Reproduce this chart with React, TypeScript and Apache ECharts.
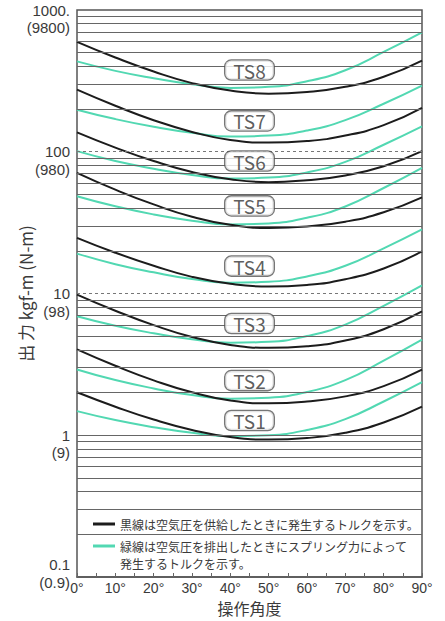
import React, { useEffect, useRef } from "react";
import * as echarts from "echarts";

const angles = [0, 10, 20, 30, 40, 50, 60, 70, 80, 90];
const xTickLabels = ["0°", "10°", "20°", "30°", "40°", "50°", "60°", "70°", "80°", "90°"];

// torque with air supply (black)
const blackTS1 = [2.01, 1.59, 1.29, 1.09, 0.972, 0.932, 0.956, 1.04, 1.23, 1.59];
const blackTS2 = [4.03, 3.09, 2.44, 2.01, 1.76, 1.68, 1.73, 1.88, 2.22, 2.9];
const blackTS3 = [9.82, 7.56, 5.98, 4.93, 4.34, 4.14, 4.25, 4.66, 5.6, 7.48];
const blackTS4 = [24.7, 19.4, 15.7, 13.1, 11.7, 11.2, 11.5, 12.6, 15.0, 19.8];
const blackTS5 = [71, 54, 42.5, 34.8, 30.5, 29, 29.7, 32.1, 37.4, 47.6];
const blackTS6 = [137, 107, 86, 72, 64, 61, 63, 68, 79, 101];
const blackTS7 = [274, 211, 167, 138, 121, 116, 119, 130, 154, 204];
const blackTS8 = [596, 462, 368, 305, 270, 257, 264, 287, 338, 440];

// torque by spring (green)
const greenTS1 = [1.48, 1.28, 1.14, 1.04, 0.984, 1.0, 1.09, 1.3, 1.73, 2.37];
const greenTS2 = [2.91, 2.45, 2.14, 1.92, 1.81, 1.84, 2.02, 2.45, 3.36, 4.73];
const greenTS3 = [6.91, 5.92, 5.24, 4.75, 4.49, 4.56, 5.01, 6.03, 8.18, 11.4];
const greenTS4 = [19.1, 16.1, 14.1, 12.65, 11.9, 12.1, 13.2, 15.7, 20.8, 28.3];
const greenTS5 = [48.5, 41.2, 36.1, 32.6, 30.7, 31.2, 34.2, 41.1, 55.5, 77.0];
const greenTS6 = [101, 86, 76, 68.6, 64.7, 65.7, 71.5, 84.8, 112, 151];
const greenTS7 = [198, 170, 150, 136, 128, 130, 141, 167, 218, 293];
const greenTS8 = [434, 372, 330, 299, 282, 287, 314, 376, 506, 696];

const blackSeries = [blackTS1, blackTS2, blackTS3, blackTS4, blackTS5, blackTS6, blackTS7, blackTS8];
const greenSeries = [greenTS1, greenTS2, greenTS3, greenTS4, greenTS5, greenTS6, greenTS7, greenTS8];

const tsNames = ["TS1", "TS2", "TS3", "TS4", "TS5", "TS6", "TS7", "TS8"];
const tsLabelAngle = 45;
const tsLabelValues = [1.27, 2.43, 6.14, 15.6, 41.5, 86, 165, 377];

const yTickValues = [0.1, 1, 10, 100, 1000];
const yTickTop = ["0.1", "1", "10", "100", "1000."];
const yTickBottom = ["(0.9)", "(9)", "(98)", "(980)", "(9800)"];

const minorGridValues = [
  0.2, 0.3, 0.4, 0.5, 0.6, 0.7, 0.8, 0.9,
  2, 3, 4, 5, 6, 7, 8, 9,
  20, 30, 40, 50, 60, 70, 80, 90,
  200, 300, 400, 500, 600, 700, 800, 900,
];
const solidMajorValues = [1];
const dashedMajorValues = [10, 100];

const legendBlackText = "黒線は空気圧を供給したときに発生するトルクを示す。";
const legendGreenText1 = "緑線は空気圧を排出したときにスプリング力によって";
const legendGreenText2 = "発生するトルクを示す。";

const FONT = "'Noto Sans CJK JP', 'Noto Sans', sans-serif";
const NUMFONT = "'Liberation Sans', Arial, sans-serif";
const BLACK = "#1c1c1c";
const GREEN = "#52d8b2";
const GRID = "#666666";
const TEXT = "#3a3a3a";

export default function App() {
  const ref = useRef<HTMLDivElement>(null);

  useEffect(() => {
    if (!ref.current) return;
    const chart = echarts.init(ref.current, null, { renderer: "svg" });

    const curveSeries: any[] = [];
    blackSeries.forEach((arr, i) => {
      curveSeries.push({
        name: "black-" + tsNames[i],
        type: "line",
        data: angles.map((a, j) => [a, arr[j]]),
        smooth: true,
        symbol: "none",
        lineStyle: { color: BLACK, width: 2 },
        z: 4,
      });
    });
    greenSeries.forEach((arr, i) => {
      curveSeries.push({
        name: "green-" + tsNames[i],
        type: "line",
        data: angles.map((a, j) => [a, arr[j]]),
        smooth: true,
        symbol: "none",
        lineStyle: { color: GREEN, width: 2 },
        z: 3,
      });
    });

    const legendGraphics: any[] = [
      {
        type: "line",
        shape: { x1: 93, y1: 524, x2: 115, y2: 524 },
        style: { stroke: BLACK, lineWidth: 3 },
        z: 10,
      },
      {
        type: "text",
        x: 120,
        y: 524,
        style: { text: legendBlackText, fontSize: 12, fill: TEXT, fontFamily: FONT, verticalAlign: "middle" },
        z: 10,
      },
      {
        type: "line",
        shape: { x1: 93, y1: 546, x2: 115, y2: 546 },
        style: { stroke: GREEN, lineWidth: 3 },
        z: 10,
      },
      {
        type: "text",
        x: 120,
        y: 546,
        style: { text: legendGreenText1, fontSize: 12, fill: TEXT, fontFamily: FONT, verticalAlign: "middle" },
        z: 10,
      },
      {
        type: "text",
        x: 120,
        y: 563,
        style: { text: legendGreenText2, fontSize: 12, fill: TEXT, fontFamily: FONT, verticalAlign: "middle" },
        z: 10,
      },
    ];

    const option: any = {
      animation: false,
      backgroundColor: "#fff",
      textStyle: { fontFamily: FONT },
      grid: {
        left: 77,
        right: 23,
        top: 10,
        bottom: 44,
        show: true,
        borderColor: "#555",
        borderWidth: 1.5,
        outerBoundsMode: "none",
        containLabel: false,
      },
      xAxis: {
        type: "value",
        min: 0,
        max: 90,
        interval: 10,
        name: "操作角度",
        nameLocation: "middle",
        nameGap: 23,
        nameTextStyle: { fontSize: 16, color: TEXT, fontFamily: FONT },
        axisLine: { show: true, lineStyle: { color: "#555", width: 1.5 } },
        axisTick: { show: true, inside: true, length: 4, lineStyle: { color: "#666" } },
        minorTick: { show: true, splitNumber: 2, length: 4, lineStyle: { color: "#666" } },
        splitLine: { show: false },
        axisLabel: {
          fontSize: 14,
          color: TEXT,
          margin: 4,
          fontFamily: NUMFONT,
          formatter: (v: number) => {
            const i = angles.indexOf(Math.round(v));
            return i >= 0 ? xTickLabels[i] : "";
          },
        },
      },
      yAxis: {
        type: "log",
        logBase: 10,
        min: 0.1,
        max: 1000,
        name: "出 力 kgf-m (N-m)",
        nameLocation: "middle",
        nameGap: 43,
        nameTextStyle: { fontSize: 17, color: TEXT, fontFamily: FONT },
        axisLine: { show: false },
        axisTick: { show: false },
        splitLine: { show: false },
        axisLabel: { show: false },
      },
      series: [
        {
          name: "grid-lines",
          type: "line",
          data: [],
          silent: true,
          z: 1,
          markLine: {
            silent: true,
            symbol: ["none", "none"],
            label: { show: false },
            lineStyle: { color: GRID, width: 1.2, type: "solid" },
            data: [
              ...minorGridValues.map((v) => ({ yAxis: v })),
              ...solidMajorValues.map((v) => ({ yAxis: v })),
              ...dashedMajorValues.map((v) => ({
                yAxis: v,
                lineStyle: { type: [3, 3], color: "#777", width: 1.2 },
              })),
            ],
          },
        },
        ...curveSeries,
        {
          name: "labels",
          type: "scatter",
          symbolSize: 1,
          itemStyle: { color: "rgba(0,0,0,0)" },
          z: 20,
          data: tsNames.map((n, i) => ({ name: n, value: [tsLabelAngle, tsLabelValues[i]] })),
          label: {
            show: true,
            position: "inside",
            formatter: "{b}",
            fontSize: 19,
            fontFamily: FONT,
            color: "#333",
            backgroundColor: "#fff",
            borderColor: "#555",
            borderWidth: 1.3,
            borderRadius: 6,
            padding: [0, 8, 0, 8],
            lineHeight: 19,
          },
        },
      ],
    };

    chart.setOption(option);

    // y-axis two-line labels placed through the axis scale
    const labelX = 70;
    const yLabelGraphics: any[] = [];
    yTickValues.forEach((v, i) => {
      const py = chart.convertToPixel({ yAxisIndex: 0 }, v) as number;
      const topY = i === 0 ? py - 13 : py;
      const botY = i === 0 ? py + 5 : py + 17.5;
      const st = { fontSize: 15, fill: TEXT, fontFamily: NUMFONT, align: "right", verticalAlign: "middle" };
      yLabelGraphics.push({ type: "text", x: labelX, y: topY, style: { ...st, text: yTickTop[i] }, z: 10 });
      yLabelGraphics.push({ type: "text", x: labelX, y: botY, style: { ...st, text: yTickBottom[i] }, z: 10 });
    });

    chart.setOption({ graphic: [...legendGraphics, ...yLabelGraphics] });
    return () => chart.dispose();
  }, []);

  return (
    <div
      ref={ref}
      style={{ position: "fixed", left: 0, top: 0, width: 445, height: 621 }}
    />
  );
}
